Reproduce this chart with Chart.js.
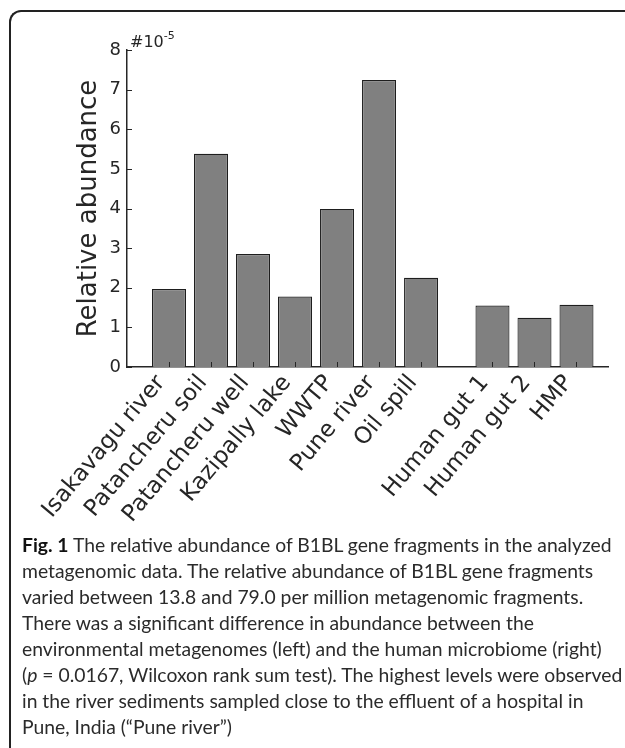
<!DOCTYPE html>
<html><head><meta charset="utf-8">
<script src="https://cdn.jsdelivr.net/npm/chart.js@4/dist/chart.umd.min.js"></script>
<style>
html,body{margin:0;padding:0;background:#fff;width:625px;height:748px;overflow:hidden;}
#frame{position:absolute;left:9px;top:10px;width:700px;height:800px;border-top:2px solid #222;border-left:2px solid #222;border-top-left-radius:12px;}
#wrap{position:absolute;left:0;top:0;width:625px;height:545px;}
#caption{position:absolute;left:22px;top:532px;font-family:Lato;font-size:17.5px;line-height:26px;color:#2b2b2b;white-space:nowrap;}
#caption b{color:#111;}
</style></head>
<body>
<div id="frame"></div>
<div id="wrap"><canvas id="c" width="625" height="545"></canvas></div>
<div id="caption"><span id="l1"><b>Fig. 1</b> The relative abundance of B1BL gene fragments in the analyzed</span><br>metagenomic data. The relative abundance of B1BL gene fragments<br>varied between 13.8 and 79.0 per million metagenomic fragments.<br>There was a significant difference in abundance between the<br>environmental metagenomes (left) and the human microbiome (right)<br>(<i>p</i> = 0.0167, Wilcoxon rank sum test). The highest levels were observed<br>in the river sediments sampled close to the effluent of a hospital in<br>Pune, India (“Pune river”)</div>
<script>
// Data (values are in units of 10^-5)
const categories = ['Isakavagu river','Patancheru soil','Patancheru well','Kazipally lake','WWTP','Pune river','Oil spill','Human gut 1','Human gut 2','HMP'];
const xPositions = [1,2,3,4,5,6,7,8.7,9.7,10.7];
const abundance = [1.97,5.38,2.85,1.78,3.99,7.24,2.25,1.55,1.24,1.57];
const yTicks = [0,1,2,3,4,5,6,7,8];
const exponentBase = '#10';
const exponentPower = '-5';
const yTitle = 'Relative abundance';

function fitCaption() {
  try {
    const cap = document.getElementById('caption');
    const c = document.createElement('canvas').getContext('2d');
    c.font = 'bold 20px Lato';
    const wb = c.measureText('Fig. 1').width;
    c.font = '20px Lato';
    const wr = c.measureText(' The relative abundance of B1BL gene fragments in the analyzed').width;
    const total = wb + wr;
    if (total > 0) cap.style.fontSize = (20 * 591 / total).toFixed(2) + 'px';
  } catch (e) {}
}
fitCaption();

Chart.defaults.font.family = '"DejaVu Sans"';
Chart.defaults.color = '#262626';

const axisDecor = {
  id: 'axisDecor',
  afterDatasetsDraw(chart) {
    const ctx = chart.ctx, xs = chart.scales.x, ys = chart.scales.y;
    ctx.save();
    ctx.strokeStyle = '#262626';
    ctx.lineWidth = 1;
    xPositions.forEach(v => {
      const px = Math.round(xs.getPixelForValue(v)) + 0.5;
      ctx.beginPath(); ctx.moveTo(px, ys.bottom); ctx.lineTo(px, ys.bottom - 5); ctx.stroke();
    });
    yTicks.forEach(v => {
      const py = Math.round(ys.getPixelForValue(v)) + 0.5;
      ctx.beginPath(); ctx.moveTo(xs.left, py); ctx.lineTo(xs.left + 5, py); ctx.stroke();
    });
    ctx.fillStyle = '#262626';
    ctx.textAlign = 'left';
    ctx.textBaseline = 'alphabetic';
    ctx.font = '16px "DejaVu Sans"';
    const bx = xs.left + 3, by = ys.top - 3;
    ctx.fillText(exponentBase, bx, by);
    const w = ctx.measureText(exponentBase).width;
    ctx.font = '11px "DejaVu Sans"';
    ctx.fillText(exponentPower, bx + w, by - 8);
    ctx.restore();
  }
};

new Chart(document.getElementById('c'), {
  type: 'bar',
  data: {
    datasets: [{
      data: xPositions.map((x, i) => ({x: x, y: abundance[i]})),
      backgroundColor: '#808080',
      borderColor: '#1e1e1e',
      borderWidth: 1.2,
      barPercentage: 0.81,
      categoryPercentage: 1
    }]
  },
  options: {
    responsive: false,
    animation: false,
    layout: {padding: {top: 50, right: 17, left: 0, bottom: 0}},
    plugins: {legend: {display: false}, tooltip: {enabled: false}},
    scales: {
      x: {
        type: 'linear',
        min: 0, max: 11.45,
        offset: false,
        afterBuildTicks: s => { s.ticks = xPositions.map(v => ({value: v})); },
        afterFit: s => { s.height = 178; },
        grid: {display: false, drawTicks: false},
        border: {display: true, color: '#262626', width: 1.5},
        ticks: {
          autoSkip: false, maxRotation: 50, minRotation: 50, padding: 3, labelOffset: -8,
          font: {size: 23}, color: '#262626',
          callback: (v, i) => categories[i]
        }
      },
      y: {
        min: 0, max: 8,
        afterBuildTicks: s => { s.ticks = yTicks.map(v => ({value: v})); },
        afterFit: s => { s.width = 127; },
        grid: {display: false, drawTicks: false},
        border: {display: true, color: '#262626', width: 1.5},
        ticks: {padding: 6, font: {size: 18}, color: '#262626'},
        title: {display: true, text: yTitle, font: {size: 26}, color: '#262626', padding: {top: 74, bottom: 0}}
      }
    }
  },
  plugins: [axisDecor]
});
</script>
</body></html>
